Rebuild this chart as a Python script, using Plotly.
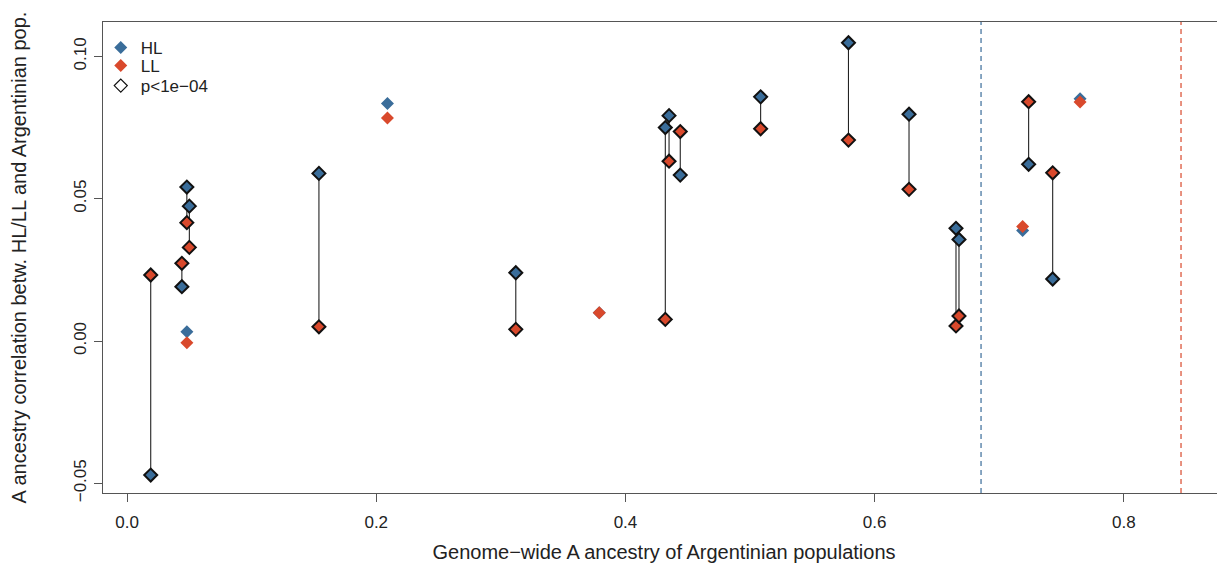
import plotly.graph_objects as go

# ---- data ----
pop_ancestry = [0.019, 0.044, 0.048, 0.048, 0.050, 0.154, 0.209, 0.312, 0.379,
                0.432, 0.435, 0.444, 0.5085, 0.579, 0.6276, 0.6653, 0.6677,
                0.7188, 0.7236, 0.7429, 0.7649]
hl_corr = [-0.0471, 0.0191, 0.0541, 0.0033, 0.0474, 0.0589, 0.0835, 0.0240, 0.0099,
           0.0750, 0.0792, 0.0583, 0.0858, 0.1048, 0.0797, 0.0396, 0.0357,
           0.0388, 0.0621, 0.0218, 0.0851]
ll_corr = [0.0232, 0.0273, 0.0416, -0.0006, 0.0329, 0.0050, 0.0784, 0.0041, 0.0099,
           0.0076, 0.0632, 0.0736, 0.0746, 0.0706, 0.0533, 0.0053, 0.0088,
           0.0402, 0.0841, 0.0591, 0.0840]
significant = [True, True, True, False, True, True, False, True, False,
               True, True, True, True, True, True, True, True,
               False, True, True, False]
hl_mean_ancestry = 0.6854
ll_mean_ancestry = 0.8459

x_ticks = [0.0, 0.2, 0.4, 0.6, 0.8]
x_tick_labels = ["0.0", "0.2", "0.4", "0.6", "0.8"]
y_ticks = [-0.05, 0.0, 0.05, 0.10]
y_tick_labels = ["\u22120.05", "0.00", "0.05", "0.10"]

BLUE = "#3a6d9a"
RED = "#d9492c"
FONT = "Liberation Sans, Arial, sans-serif"

fig = go.Figure()

# connecting segments for significant pairs
seg_x, seg_y = [], []
for x, h, l, s in zip(pop_ancestry, hl_corr, ll_corr, significant):
    if s:
        seg_x += [x, x, None]
        seg_y += [h, l, None]
fig.add_trace(go.Scatter(x=seg_x, y=seg_y, mode="lines",
                         line=dict(color="#222222", width=1.1),
                         showlegend=False, hoverinfo="skip"))

ns_x = [x for x, s in zip(pop_ancestry, significant) if not s]
ns_h = [h for h, s in zip(hl_corr, significant) if not s]
ns_l = [l for l, s in zip(ll_corr, significant) if not s]
sg_x = [x for x, s in zip(pop_ancestry, significant) if s]
sg_h = [h for h, s in zip(hl_corr, significant) if s]
sg_l = [l for l, s in zip(ll_corr, significant) if s]

fig.add_trace(go.Scatter(x=ns_x, y=ns_h, mode="markers", name="HL", legend="legend",
                         marker=dict(symbol="diamond", size=10, color=BLUE,
                                     line=dict(width=0))))
fig.add_trace(go.Scatter(x=ns_x, y=ns_l, mode="markers", name="LL", legend="legend2",
                         marker=dict(symbol="diamond", size=10, color=RED,
                                     line=dict(width=0))))
fig.add_trace(go.Scatter(x=sg_x, y=sg_h, mode="markers", name="HL sig",
                         showlegend=False,
                         marker=dict(symbol="diamond", size=10, color=BLUE,
                                     line=dict(width=2, color="#111111"))))
fig.add_trace(go.Scatter(x=sg_x, y=sg_l, mode="markers", name="LL sig",
                         showlegend=False,
                         marker=dict(symbol="diamond", size=10, color=RED,
                                     line=dict(width=2, color="#111111"))))
fig.add_trace(go.Scatter(x=[None], y=[None], mode="markers", name="p<1e\u221204",
                         legend="legend3",
                         marker=dict(symbol="diamond-open", size=10, color="#111111",
                                     line=dict(width=1.2))))

fig.add_vline(x=hl_mean_ancestry, line=dict(color=BLUE, width=1.2, dash="5px,4px"))
fig.add_vline(x=ll_mean_ancestry, line=dict(color=RED, width=1.2, dash="5px,4px"))

leg_common = dict(x=-0.002, xanchor="left", yanchor="middle",
                  bgcolor="rgba(0,0,0,0)", font=dict(size=17, color="#222222"),
                  itemwidth=30, borderwidth=0)

# page body has an 8px margin; figure is sized so the plot lands where the reference has it
fig.update_layout(
    width=1217, height=560,
    margin=dict(l=95, r=0, t=14, b=75, autoexpand=False),
    paper_bgcolor="white", plot_bgcolor="white",
    font=dict(family=FONT, size=17, color="#222222"),
    legend=dict(y=0.9448, **leg_common),
    legend2=dict(y=0.9066, **leg_common),
    legend3=dict(y=0.8641, **leg_common),
    xaxis=dict(range=[-0.0193, 0.8812], tickvals=x_ticks, ticktext=x_tick_labels,
               showgrid=False, zeroline=False, showline=True, mirror=True,
               linecolor="#555555", linewidth=1.2, ticks="outside", ticklen=8,
               tickcolor="#555555", tickfont=dict(size=17), ticklabelstandoff=5,
               automargin=False,
               title=dict(text="Genome\u2212wide A ancestry of Argentinian populations",
                          font=dict(size=20), standoff=14)),
    yaxis=dict(range=[-0.0534, 0.1121], tickvals=y_ticks, ticktext=y_tick_labels,
               showgrid=False, zeroline=False, showline=True, mirror=False,
               linecolor="#555555", linewidth=1.2, ticks="outside", ticklen=8,
               tickcolor="#555555", tickangle=-90, tickfont=dict(size=17),
               ticklabelstandoff=1, automargin=False,
               title=dict(text="A ancestry correlation betw. HL/LL and Argentinian pop.",
                          font=dict(size=20), standoff=45)),
)

fig.write_html("out.html")
